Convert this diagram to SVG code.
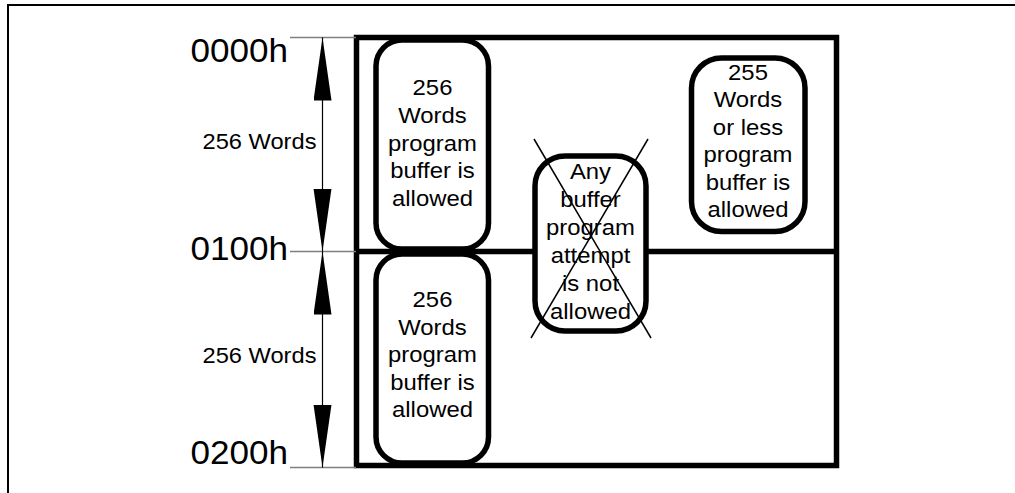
<svg xmlns="http://www.w3.org/2000/svg" width="1015" height="493" viewBox="0 0 1015 493">
  <style>
    .frame { fill: none; stroke: #000; stroke-width: 2; }
    .main { fill: none; stroke: #000; stroke-width: 5.5; }
    .box { fill: #fff; stroke: #000; stroke-width: 5.5; }
    .ref { stroke: #7f7f7f; stroke-width: 1.5; }
    .dim { stroke: #000; stroke-width: 1.2; fill: none; }
    .cross { stroke: #000; stroke-width: 1.5; }
    text { font-family: "Liberation Sans", Arial, sans-serif; fill: #000; }
    .t { font-size: 21.5px; text-anchor: middle; }
    .hex { font-size: 32.5px; text-anchor: end; }
    .words { font-size: 21.5px; text-anchor: middle; }
  </style>
  <defs>
    <marker id="arr" markerUnits="userSpaceOnUse" markerWidth="64" markerHeight="20" viewBox="0 0 64 20" refX="63" refY="9" orient="auto-start-reverse">
      <path d="M0,0 L63,9 L0,18 Z" fill="#000"/>
    </marker>
  </defs>
  <rect width="1015" height="493" fill="#fff"/>

  <g id="frame">
    <path class="frame" d="M8,493 V5 H1015"/>
  </g>

  <g id="memory-block">
    <rect class="main" x="356.5" y="37.5" width="480" height="428"/>
    <line class="main" x1="356.5" y1="251.5" x2="836.5" y2="251.5"/>
  </g>

  <g id="address-labels">
    <line class="ref" x1="290" y1="37.5" x2="356" y2="37.5"/>
    <line class="ref" x1="290" y1="251.5" x2="356" y2="251.5"/>
    <line class="ref" x1="290" y1="467.5" x2="356" y2="467.5"/>
    <text class="hex" transform="translate(288,61.5) scale(1.08,1)">0000h</text>
    <text class="hex" transform="translate(288,260) scale(1.08,1)">0100h</text>
    <text class="hex" transform="translate(288,463.5) scale(1.08,1)">0200h</text>
  </g>

  <g id="connectors">
    <line class="dim" x1="322.5" y1="37.5" x2="322.5" y2="251.5" marker-start="url(#arr)" marker-end="url(#arr)"/>
    <line class="dim" x1="322.5" y1="251.5" x2="322.5" y2="467.5" marker-start="url(#arr)" marker-end="url(#arr)"/>
    <text class="words" transform="translate(259.5,148.5) scale(1.1,1)">256 Words</text>
    <text class="words" transform="translate(259.5,362.5) scale(1.1,1)">256 Words</text>
  </g>

  <g id="node-top-left">
    <rect class="box" x="376" y="40" width="112.5" height="209" rx="26" ry="26"/>
    <g transform="translate(432.5,0) scale(1.11,1)">
      <text class="t" x="0" y="95">256</text>
      <text class="t" x="0" y="123">Words</text>
      <text class="t" x="0" y="151">program</text>
      <text class="t" x="0" y="178.5">buffer is</text>
      <text class="t" x="0" y="206">allowed</text>
    </g>
  </g>

  <g id="node-bottom-left">
    <rect class="box" x="376" y="254" width="112.5" height="209" rx="26" ry="26"/>
    <g transform="translate(432.5,0) scale(1.11,1)">
      <text class="t" x="0" y="307">256</text>
      <text class="t" x="0" y="335">Words</text>
      <text class="t" x="0" y="362.5">program</text>
      <text class="t" x="0" y="390">buffer is</text>
      <text class="t" x="0" y="417">allowed</text>
    </g>
  </g>

  <g id="node-middle">
    <rect class="box" x="535" y="156" width="111" height="175" rx="30" ry="30"/>
    <g transform="translate(590.5,0) scale(1.11,1)">
      <text class="t" x="0" y="179.5">Any</text>
      <text class="t" x="0" y="207">buffer</text>
      <text class="t" x="0" y="235">program</text>
      <text class="t" x="0" y="263">attempt</text>
      <text class="t" x="0" y="291">is not</text>
      <text class="t" x="0" y="319">allowed</text>
    </g>
    <line class="cross" x1="534" y1="139" x2="651" y2="338"/>
    <line class="cross" x1="648" y1="139" x2="531" y2="338"/>
  </g>

  <g id="node-top-right">
    <rect class="box" x="691.5" y="58" width="113.5" height="173.5" rx="30" ry="30"/>
    <g transform="translate(748,0) scale(1.11,1)">
      <text class="t" x="0" y="80">255</text>
      <text class="t" x="0" y="107.5">Words</text>
      <text class="t" x="0" y="135">or less</text>
      <text class="t" x="0" y="162.5">program</text>
      <text class="t" x="0" y="190">buffer is</text>
      <text class="t" x="0" y="217.5">allowed</text>
    </g>
  </g>
</svg>
